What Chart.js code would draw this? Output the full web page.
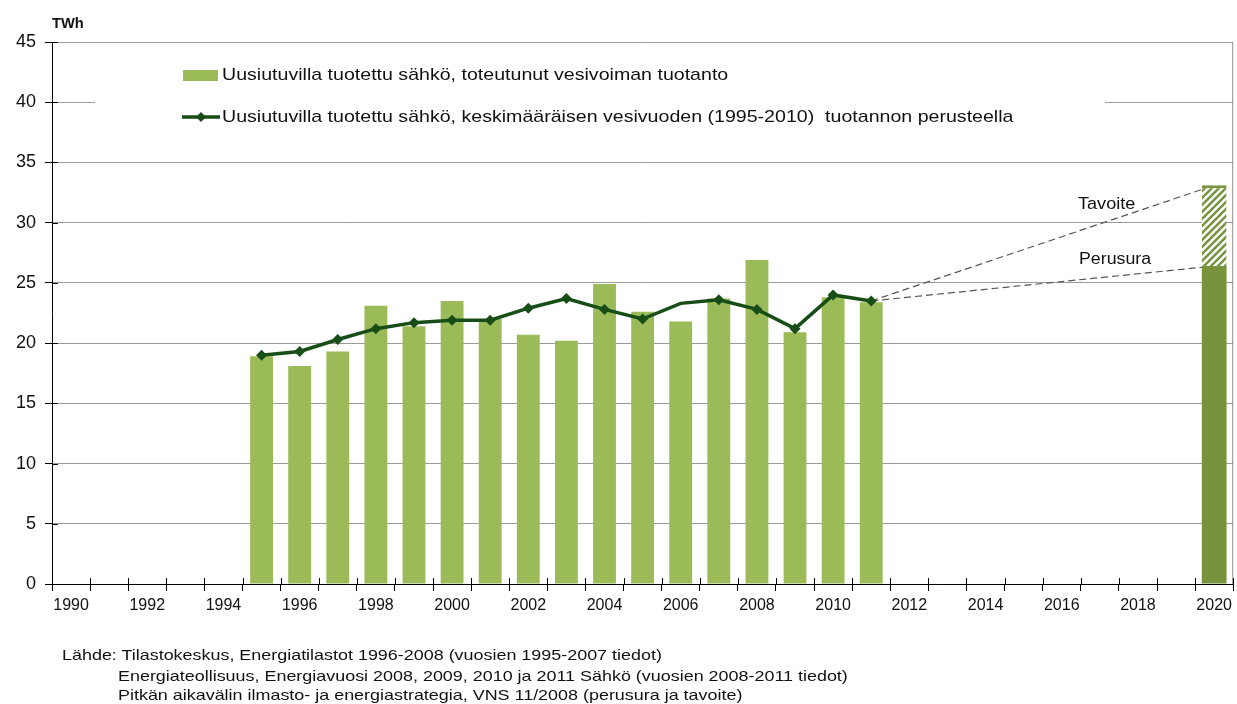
<!DOCTYPE html>
<html>
<head>
<meta charset="utf-8">
<script src="https://cdn.jsdelivr.net/npm/chart.js@4/dist/chart.umd.min.js"></script>
<style>
  html, body { margin: 0; padding: 0; background: #fff; }
  #wrap { position: relative; width: 1237px; height: 704px; font-family: "Liberation Sans", Arial, sans-serif; }
  #c { position: absolute; left: 0; top: 0; }
  .note { position: absolute; font-size: 15px; color: #111; white-space: pre; line-height: 18px; transform: scaleX(1.195); transform-origin: 0 0; }
</style>
</head>
<body>
<div id="wrap">
  <canvas id="c" width="1237" height="704"></canvas>
  <div class="note" style="left:62px; top:646px;">Lähde: Tilastokeskus, Energiatilastot 1996-2008 (vuosien 1995-2007 tiedot)</div>
  <div class="note" style="left:118px; top:667px;">Energiateollisuus, Energiavuosi 2008, 2009, 2010 ja 2011 Sähkö (vuosien 2008-2011 tiedot)</div>
  <div class="note" style="left:118px; top:686px;">Pitkän aikavälin ilmasto- ja energiastrategia, VNS 11/2008 (perusura ja tavoite)</div>
</div>
<script>
// ---- data ----
const years = [1990,1991,1992,1993,1994,1995,1996,1997,1998,1999,2000,2001,2002,2003,2004,2005,2006,2007,2008,2009,2010,2011,2012,2013,2014,2015,2016,2017,2018,2019,2020];
const actualProduction = [null,null,null,null,null,18.9,18.1,19.3,23.1,21.4,23.5,22.0,20.7,20.2,24.9,22.6,21.8,23.7,26.9,20.9,23.8,23.4,null,null,null,null,null,null,null,null,null];
const averageYear = [null,null,null,null,null,19.0,19.3,20.3,21.2,21.7,21.9,21.9,22.9,23.7,22.8,22.0,23.3,23.6,22.8,21.2,24.0,23.5,null,null,null,null,null,null,null,null,null];
const averageMarkers = [0,0,0,0,0,1,1,1,1,1,1,1,1,1,1,1,0,1,1,1,1,1,0,0,0,0,0,0,0,0,0];
const baseline2020 = [null,null,null,null,null,null,null,null,null,null,null,null,null,null,null,null,null,null,null,null,null,null,null,null,null,null,null,null,null,null,26.4];
const target2020 = [null,null,null,null,null,null,null,null,null,null,null,null,null,null,null,null,null,null,null,null,null,null,null,null,null,null,null,null,null,null,[26.4,33.1]];
const targetTrend = [null,null,null,null,null,null,null,null,null,null,null,null,null,null,null,null,null,null,null,null,null,23.5,null,null,null,null,null,null,null,null,33.1];
const baselineTrend = [null,null,null,null,null,null,null,null,null,null,null,null,null,null,null,null,null,null,null,null,null,23.5,null,null,null,null,null,null,null,null,26.4];
const yTicks = [0,5,10,15,20,25,30,35,40,45];
const legendLabels = [
  'Uusiutuvilla tuotettu sähkö, toteutunut vesivoiman tuotanto',
  'Uusiutuvilla tuotettu sähkö, keskimääräisen vesivuoden (1995-2010)  tuotannon perusteella'
];

const FONT = '"Liberation Sans", Arial, sans-serif';
const BAR = '#9BBB59';
const BAR2020 = '#77933C';
const LINE = '#174D17';

// hatch pattern
const pc = document.createElement('canvas');
pc.width = 7; pc.height = 7;
const px = pc.getContext('2d');
px.fillStyle = '#fff'; px.fillRect(0,0,7,7);
px.strokeStyle = BAR2020; px.lineWidth = 2.4;
px.beginPath();
px.moveTo(-2, 9); px.lineTo(9, -2);
px.moveTo(-2, 2); px.lineTo(2, -2);
px.moveTo(5, 9); px.lineTo(9, 5);
px.stroke();
const hatch = px.createPattern(pc, 'repeat');

function stretchText(ctx, text, x, y, sx) {
  ctx.save();
  ctx.translate(x, y);
  ctx.scale(sx, 1);
  ctx.fillText(text, 0, 0);
  ctx.restore();
}

const decor = {
  id: 'decor',
  afterDraw(chart) {
    const ctx = chart.ctx;
    const a = chart.chartArea;
    const xs = chart.scales.x, ys = chart.scales.y;
    ctx.save();
    // right border
    ctx.strokeStyle = '#909090'; ctx.lineWidth = 1;
    ctx.beginPath(); ctx.moveTo(a.right - 0.5, a.top); ctx.lineTo(a.right - 0.5, a.bottom); ctx.stroke();
    // crossing ticks
    ctx.strokeStyle = '#000';
    ctx.beginPath();
    for (let i = 0; i <= years.length; i++) {
      const x = Math.round(a.left + (a.right - a.left) * i / years.length) + 0.5;
      ctx.moveTo(x, a.bottom); ctx.lineTo(x, a.bottom - 6);
    }
    yTicks.forEach(v => {
      const y = Math.round(ys.getPixelForValue(v)) + 0.5;
      ctx.moveTo(a.left, y); ctx.lineTo(a.left + 6, y);
    });
    ctx.stroke();
    // legend box (white, hides part of grid)
    ctx.fillStyle = '#fff';
    ctx.fillRect(95, 55, 1010, 80);
    ctx.fillStyle = BAR;
    ctx.fillRect(183, 70, 35, 11);
    ctx.strokeStyle = LINE; ctx.lineWidth = 3.5;
    ctx.beginPath(); ctx.moveTo(182, 117); ctx.lineTo(220, 117); ctx.stroke();
    ctx.fillStyle = LINE;
    ctx.beginPath(); ctx.moveTo(201, 112); ctx.lineTo(206, 117); ctx.lineTo(201, 122); ctx.lineTo(196, 117); ctx.closePath(); ctx.fill();
    ctx.fillStyle = '#111';
    ctx.font = '17px ' + FONT;
    ctx.textBaseline = 'middle'; ctx.textAlign = 'left';
    stretchText(ctx, legendLabels[0], 222, 75, 1.152);
    stretchText(ctx, legendLabels[1], 222, 117, 1.152);
    // annotations
    ctx.font = '16px ' + FONT;
    stretchText(ctx, 'Tavoite', 1078, ys.getPixelForValue(31.5), 1.13);
    stretchText(ctx, 'Perusura', 1079, ys.getPixelForValue(26.9), 1.11);
    // unit
    ctx.font = 'bold 14px ' + FONT;
    stretchText(ctx, 'TWh', 52, 24, 1.05);
    ctx.restore();
  }
};

new Chart(document.getElementById('c'), {
  type: 'bar',
  data: {
    labels: years.map(String),
    datasets: [
      { type: 'line', data: averageYear, borderColor: LINE, backgroundColor: LINE, borderWidth: 3.5,
        pointStyle: 'rectRot', pointRadius: averageMarkers.map(m => m ? 5.5 : 0), pointBorderWidth: 0,
        pointBackgroundColor: LINE, tension: 0, order: 0 },
      { data: actualProduction, backgroundColor: BAR, barPercentage: 0.6, categoryPercentage: 1, grouped: false, order: 1 },
      { data: baseline2020, backgroundColor: BAR2020, barPercentage: 0.65, categoryPercentage: 1, grouped: false, order: 1 },
      { data: target2020, backgroundColor: hatch, borderColor: BAR2020, borderWidth: {top: 3, left: 0, right: 0, bottom: 0},
        borderSkipped: false, barPercentage: 0.65, categoryPercentage: 1, grouped: false, order: 1 },
      { type: 'line', data: targetTrend, borderColor: '#555', borderWidth: 1.2, borderDash: [7, 4], pointRadius: 0, spanGaps: true, order: 2 },
      { type: 'line', data: baselineTrend, borderColor: '#555', borderWidth: 1.2, borderDash: [7, 4], pointRadius: 0, spanGaps: true, order: 2 }
    ]
  },
  options: {
    responsive: false,
    animation: false,
    layout: { padding: { top: 42, right: 2, bottom: 80, left: 0 } },
    plugins: { legend: { display: false }, tooltip: { enabled: false } },
    scales: {
      x: {
        offset: true,
        grid: { offset: true, drawOnChartArea: false, drawTicks: true, tickLength: 7, tickColor: '#000' },
        border: { color: '#000', width: 1 },
        ticks: { autoSkip: false, maxRotation: 0, color: '#111', font: { family: FONT, size: 16 }, padding: 5,
          callback: (v, i) => (years[i] % 2 === 0 ? String(years[i]) : '') },
        afterFit: s => { s.height = 40; }
      },
      y: {
        min: 0, max: 45,
        afterBuildTicks: s => { s.ticks = yTicks.map(v => ({ value: v })); },
        grid: { color: '#9a9a9a', tickColor: '#000', tickLength: 7 },
        border: { color: '#000', width: 1 },
        ticks: { color: '#111', font: { family: FONT, size: 18 }, padding: 9 },
        afterFit: s => { s.width = 52; }
      }
    }
  },
  plugins: [decor]
});
</script>
</body>
</html>
